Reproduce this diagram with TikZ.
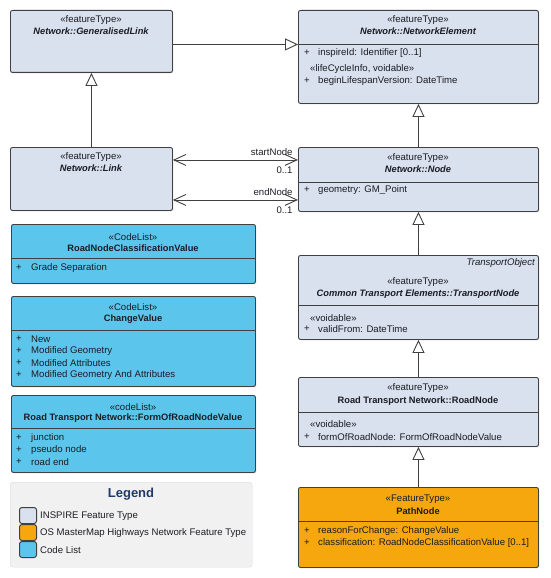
\documentclass[tikz,border=0pt]{standalone}
\usepackage{fontspec}
\setmainfont{Liberation Sans}
\usepackage{tikz}
\usetikzlibrary{arrows.meta,shadows}
\definecolor{inspire}{RGB}{216,225,237}
\definecolor{codelist}{RGB}{92,197,235}
\definecolor{osmm}{RGB}{246,167,13}
\definecolor{legendbg}{RGB}{241,241,241}
\definecolor{legendline}{RGB}{218,218,218}
\definecolor{umlline}{RGB}{64,64,64}
\definecolor{umltext}{RGB}{28,28,36}
\definecolor{legendtitle}{RGB}{32,58,102}
\tikzset{
  umlbox/.style={draw=umlline, line width=0.9pt, rounded corners=2pt, anchor=north west, inner sep=0pt,
    drop shadow={shadow xshift=1pt, shadow yshift=-1pt, opacity=0.25}},
  inspirebox/.style={umlbox, fill=inspire},
  codebox/.style={umlbox, fill=codelist},
  osmmbox/.style={umlbox, fill=osmm},
  sep/.style={draw=umlline, line width=0.9pt},
  stereo/.style={inner sep=0pt, text=umltext, font=\fontsize{9.6}{11}\selectfont},
  cname/.style={inner sep=0pt, text=umltext, font=\fontsize{9.3}{11}\selectfont\bfseries},
  attr/.style={inner sep=0pt, anchor=west, text=umltext, font=\fontsize{9.6}{11}\selectfont},
  gen/.style={draw=umlline, line width=0.9pt, -{Triangle[fill=white, length=13pt, width=12pt, line width=0.9pt]}},
  assoc/.style={draw=umlline, line width=0.9pt, {Straight Barb[length=12pt, width=11pt, line width=0.9pt]}-{Straight Barb[length=12pt, width=11pt, line width=0.9pt]}},
  rolename/.style={inner sep=0pt, text=umltext, font=\fontsize{9.6}{11}\selectfont},
  swatch/.style={draw=umlline, line width=1pt, rounded corners=2.5pt, anchor=north west, minimum width=17, minimum height=16, inner sep=0pt},
}

\begin{document}
\begin{tikzpicture}[x=1pt,y=-1pt]
\useasboundingbox (0,0) rectangle (550,578);

% feature types, left column
\node [inspirebox, minimum width=162, minimum height=62] (genlink) at (10,10) {};
\node [stereo] (genlinkst) at (91,20) {«featureType»};
\node [cname] (genlinkname) at (91,31) {\itshape Network::GeneralisedLink};

\node [inspirebox, minimum width=162, minimum height=63] (link) at (10,147) {};
\node [stereo] (linkst) at (91,157) {«featureType»};
\node [cname] (linkname) at (91,168) {\itshape Network::Link};

% feature types, right column
\node [inspirebox, minimum width=240, minimum height=93] (netelem) at (298,10) {};
\node [stereo] (netelemst) at (418,20) {«featureType»};
\node [cname] (netelemname) at (418,31) {\itshape Network::NetworkElement};
\draw [sep] (298,44) -- (538,44);
\node [attr] (netelemp1) at (304,53) {+};
\node [attr] (netelema1) at (318,53) {inspireId: Identifier [0..1]};
\node [attr] (netelemst2) at (310,69) {«lifeCycleInfo, voidable»};
\node [attr] (netelemp2) at (304,81) {+};
\node [attr] (netelema2) at (318,81) {beginLifespanVersion: DateTime};

\node [inspirebox, minimum width=240, minimum height=64] (netnode) at (298,147) {};
\node [stereo] (netnodest) at (418,158) {«featureType»};
\node [cname] (netnodename) at (418,169) {\itshape Network::Node};
\draw [sep] (298,182) -- (538,182);
\node [attr] (netnodep1) at (304,190) {+};
\node [attr] (netnodea1) at (318,190) {geometry: GM\_Point};

\node [inspirebox, minimum width=240, minimum height=84] (tnode) at (298,255) {};
\node [stereo, anchor=east] (tnodeparent) at (535,263) {\itshape TransportObject};
\node [stereo] (tnodest) at (418,282) {«featureType»};
\node [cname] (tnodename) at (418,294) {\itshape Common Transport Elements::TransportNode};
\draw [sep] (298,305) -- (538,305);
\node [attr] (tnodest2) at (310,318) {«voidable»};
\node [attr] (tnodep1) at (304,329) {+};
\node [attr] (tnodea1) at (318,329) {validFrom: DateTime};

\node [inspirebox, minimum width=240, minimum height=69] (roadnode) at (298,377) {};
\node [stereo] (roadnodest) at (418,388) {«featureType»};
\node [cname] (roadnodename) at (418,401) {Road Transport Network::RoadNode};
\draw [sep] (298,412) -- (538,412);
\node [attr] (roadnodest2) at (310,424) {«voidable»};
\node [attr] (roadnodep1) at (304,437) {+};
\node [attr] (roadnodea1) at (318,437) {formOfRoadNode: FormOfRoadNodeValue};

\node [osmmbox, minimum width=240, minimum height=80] (pathnode) at (298,487) {};
\node [stereo] (pathnodest) at (418,499) {«FeatureType»};
\node [cname] (pathnodename) at (418,511) {PathNode};
\draw [sep] (298,521) -- (538,521);
\node [attr] (pathnodep1) at (304,531) {+};
\node [attr] (pathnodea1) at (318,531) {reasonForChange: ChangeValue};
\node [attr] (pathnodep2) at (304,543) {+};
\node [attr] (pathnodea2) at (318,543) {classification: RoadNodeClassificationValue [0..1]};

% code lists
\node [codebox, minimum width=244, minimum height=59] (rnclass) at (11,224) {};
\node [stereo] (rnclassst) at (133,237) {«CodeList»};
\node [cname] (rnclassname) at (133,248) {RoadNodeClassificationValue};
\draw [sep] (11,258) -- (255,258);
\node [attr] (rnclassp1) at (16,268) {+};
\node [attr] (rnclassa1) at (31,268) {Grade Separation};

\node [codebox, minimum width=244, minimum height=90] (change) at (11,296) {};
\node [stereo] (changest) at (133,307) {«CodeList»};
\node [cname] (changename) at (133,319) {ChangeValue};
\draw [sep] (11,330) -- (255,330);
\foreach \val [count=\i] in {New, Modified Geometry, Modified Attributes, Modified Geometry And Attributes}{
  \node [attr] (changep\i) at (16,327+12*\i) {+};
  \node [attr] (changea\i) at (31,327+12*\i) {\val};
}

\node [codebox, minimum width=244, minimum height=77] (formrn) at (11,395) {};
\node [stereo] (formrnst) at (133,407) {«codeList»};
\node [cname] (formrnname) at (133,418) {Road Transport Network::FormOfRoadNodeValue};
\draw [sep] (11,428) -- (255,428);
\foreach \val [count=\i] in {junction, pseudo node, road end}{
  \node [attr] (formrnp\i) at (16,426+12*\i) {+};
  \node [attr] (formrna\i) at (31,426+12*\i) {\val};
}

% legend
\node [anchor=north west, fill=legendbg, draw=legendline, rounded corners=3pt, minimum width=242, minimum height=85, inner sep=0pt] (legend) at (10,482) {};
\node [inner sep=0pt, text=legendtitle, font=\fontsize{13}{15}\selectfont\bfseries] (legendhead) at (131,494) {Legend};
\node [swatch, fill=inspire] (swinspire) at (19,507) {};
\node [swatch, fill=osmm] (swosmm) at (19,524) {};
\node [swatch, fill=codelist] (swcode) at (19,541) {};
\node [attr] (txinspire) at (40,516) {INSPIRE Feature Type};
\node [attr] (txosmm) at (40,533) {OS MasterMap Highways Network Feature Type};
\node [attr] (txcode) at (40,550) {Code List};

% generalisations
\draw [gen] (link.north) -- (genlink.south);
\draw [gen] ([yshift=-3pt]genlink.east) -- ([yshift=-3pt]genlink.east -| netelem.west);
\draw [gen] (netnode.north) -- (netelem.south);
\draw [gen] (tnode.north) -- (netnode.south);
\draw [gen] (roadnode.north) -- (tnode.south);
\draw [gen] (pathnode.north) -- (roadnode.south);

% associations
\draw [assoc] ([yshift=19pt]link.east) -- ([yshift=19pt]link.east -| netnode.west)
  node [rolename, pos=1, anchor=south east, xshift=-5pt, yshift=4pt] (startrole) {startNode}
  node [rolename, pos=1, anchor=north east, xshift=-5pt, yshift=-6pt] (startmult) {0..1};
\draw [assoc] ([yshift=-21pt]link.east) -- ([yshift=-21pt]link.east -| netnode.west)
  node [rolename, pos=1, anchor=south east, xshift=-5pt, yshift=4pt] (endrole) {endNode}
  node [rolename, pos=1, anchor=north east, xshift=-5pt, yshift=-6pt] (endmult) {0..1};
\end{tikzpicture}
\end{document}
